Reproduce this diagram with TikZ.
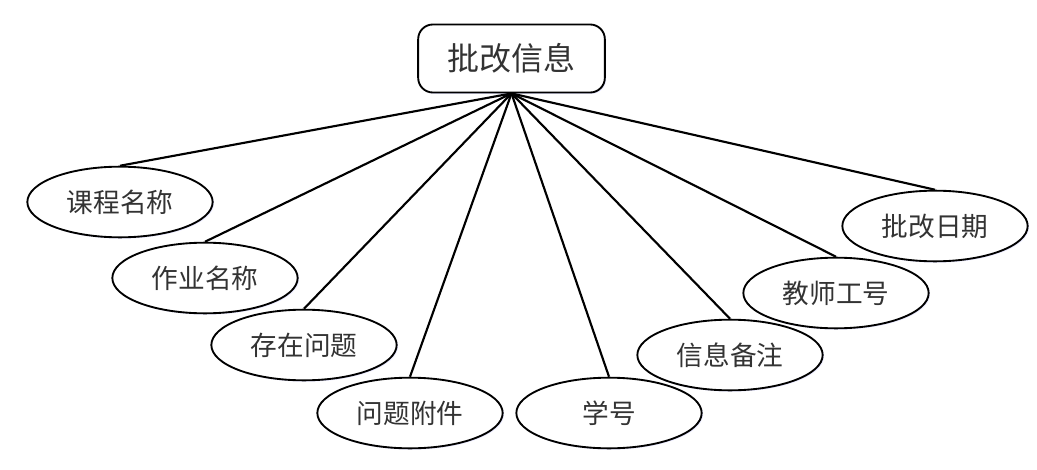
\documentclass[tikz,border=0pt]{standalone}
\usepackage{fontspec}
\newfontfamily\cjk{Noto Sans CJK SC}
\usetikzlibrary{shapes.geometric,shadows}
\begin{document}
\begin{tikzpicture}[x=0.75pt,y=-0.75pt,
  attr/.style={ellipse,draw=black,line width=1.4pt,fill=white,
    minimum width=139pt,minimum height=53pt,inner sep=0pt,
    font=\cjk\fontsize{20}{23}\selectfont,text=black!80,
    drop shadow={shadow xshift=1pt,shadow yshift=-1pt,fill=blue!15,opacity=0.6}},
  entity/.style={rectangle,rounded corners=11pt,draw=black,line width=1.4pt,fill=white,
    minimum width=140pt,minimum height=51pt,inner sep=0pt,
    font=\cjk\fontsize{24}{28}\selectfont,text=black!80,
    drop shadow={shadow xshift=1pt,shadow yshift=-1pt,fill=blue!15,opacity=0.6}},
  link/.style={line width=1.6pt,draw=black}]
\useasboundingbox (0,0) rectangle (1037,470);
\node[entity] (top) at (511.5,58.5) {批改信息};
\node[attr] (a1) at (120,202) {课程名称};
\node[attr] (a2) at (205,278) {作业名称};
\node[attr] (a3) at (304,345) {存在问题};
\node[attr] (a4) at (410,413) {问题附件};
\node[attr] (a5) at (609,413) {学号};
\node[attr] (a6) at (730,355) {信息备注};
\node[attr] (a7) at (836,293) {教师工号};
\node[attr] (a8) at (935,226) {批改日期};
\foreach \n in {a1,a2,a3,a4,a5,a6,a7,a8}
  \draw[link] (top.south) -- (\n.north);
\end{tikzpicture}
\end{document}
